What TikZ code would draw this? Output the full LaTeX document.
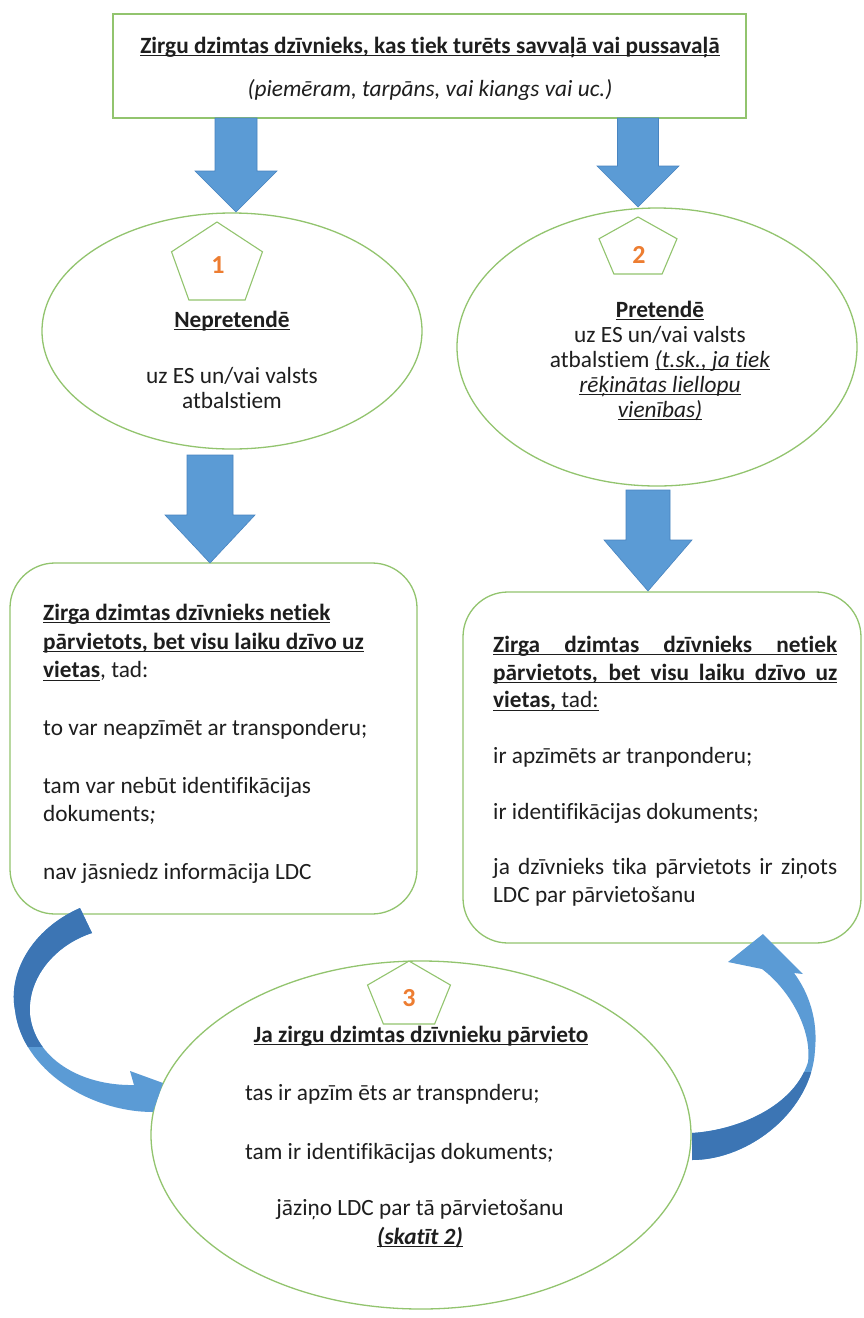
\documentclass[tikz,border=0pt]{standalone}
\usepackage{fontspec}
\setmainfont{Carlito}[Ligatures=CommonOff]
\usetikzlibrary{shapes.geometric}
\definecolor{gline}{RGB}{146,196,110}
\definecolor{afill}{RGB}{91,155,213}
\definecolor{aline}{RGB}{72,132,192}
\definecolor{adark}{RGB}{60,117,180}
\definecolor{numor}{RGB}{237,125,49}
\definecolor{txt}{RGB}{30,30,30}
\newcommand\myul[1]{\setbox0=\hbox{#1}\rlap{\rule[-3pt]{\wd0}{1.2pt}}\box0}
\newcommand\fs{\rule{0pt}{20pt}}
\newcommand\blockdn[6]{\filldraw[blockarrow] (#1-#5,#2) -- (#1+#5,#2) -- (#1+#5,#3) -- (#1+#6,#3) -- (#1,#4) -- (#1-#6,#3) -- (#1-#5,#3) -- cycle;}
\newcommand\pent[4]{\draw[pentline] (#1,#2-#4) -- (#1-0.951*#3,#2-0.309*#4) -- (#1-0.588*#3,#2+0.809*#4) -- (#1+0.588*#3,#2+0.809*#4) -- (#1+0.951*#3,#2-0.309*#4) -- cycle;}
\newcommand\leftcurve{(80,908) .. controls (30,930) and (8,975) .. (15,1010) .. controls (22,1070) and (90,1112) .. (153,1112) -- (163,1083) -- (130,1071) -- (134,1085) .. controls (80,1086) and (35,1058) .. (30,1015) .. controls (27,978) and (55,945) .. (92,933) -- cycle}
\newcommand\rightcurve{(692,1133) .. controls (740,1130) and (795,1105) .. (808,1062) .. controls (812,1030) and (790,990) .. (762,969) -- (728,962) -- (763,934) -- (803,974) -- (794,973) .. controls (809,993) and (818,1020) .. (815,1050) .. controls (812,1110) and (750,1160) .. (692,1160) -- cycle}
\begin{document}
\begin{tikzpicture}[x=1pt,y=-1pt,
  every node/.style={text=txt, inner sep=0pt, font=\fontsize{23.3}{28.8}\selectfont},
  gshape/.style={draw=gline, line width=1.3pt},
  pentline/.style={draw=gline, line width=1.1pt},
  blockarrow/.style={fill=afill, draw=aline, line width=0.6pt},
  numtxt/.style={text=numor, font=\fontsize{26}{28}\selectfont\bfseries},
  ellfont/.style={font=\fontsize{23.3}{25}\selectfont}]
\useasboundingbox (0,0) rectangle (863,1318);
\fill[white] (0,0) rectangle (863,1318);
% shapes
\node[gshape, line width=1.8pt, rectangle, minimum width=633pt, minimum height=104pt] (top) at (429.5,66) {};
\node[gshape, ellipse, minimum width=380pt, minimum height=236pt] (e1) at (232,331) {};
\node[gshape, ellipse, minimum width=400pt, minimum height=278pt] (e2) at (657,347) {};
\node[gshape, rectangle, rounded corners=45pt, minimum width=407pt, minimum height=351pt] (lb) at (213.5,738.5) {};
\node[gshape, rectangle, rounded corners=45pt, minimum width=398pt, minimum height=351pt] (rb) at (662,767.5) {};
\node[gshape, ellipse, minimum width=540pt, minimum height=348pt] (e3) at (421,1135) {};
% pentagons
\pent{217}{265.1}{47.8}{43.1}
\pent{638}{248.5}{41}{31.5}
\pent{409}{995.8}{43.6}{34.8}
\node[numtxt] (n1) at (218,265) {1};
\node[numtxt] (n2) at (639,255) {2};
\node[numtxt] (n3) at (409,998) {3};
% top texts
\node[anchor=base] (t1) at (430,53) {\myul{\textbf{Zirgu dzimtas dzīvnieks, kas tiek turēts savvaļā vai pussavaļā}}};
\node[anchor=base] (t2) at (430,96) {\textit{(piemēram, tarpāns, vai kiangs vai uc.)}};
% ellipse texts
\node[ellfont, anchor=north, align=center] (e1t) at (232,307) {\fs\myul{\textbf{Nepretendē}}\\[31pt] uz ES un/vai valsts\\ atbalstiem};
\node[ellfont, anchor=north, align=center] (e2t) at (660,297) {\fs\myul{\textbf{Pretendē}}\\ uz ES un/vai valsts\\ atbalstiem \myul{\textit{(t.sk., ja tiek}}\\ \myul{\textit{rēķinātas liellopu}}\\ \myul{\textit{vienības)}}};
% box texts
\node[anchor=north west, align=left] (lbt) at (43,600) {\fs\myul{\textbf{Zirga dzimtas dzīvnieks netiek}}\\
\myul{\textbf{pārvietots, bet visu laiku dzīvo uz}}\\
\myul{\textbf{vietas}}, tad:\\[28.8pt]
to var neapzīmēt ar transponderu;\\[28.8pt]
tam var nebūt identifikācijas\\
dokuments\textit{;}\\[28.8pt]
nav jāsniedz informācija LDC};
\node[anchor=north west, align=left, font=\fontsize{23.3}{27.8}\selectfont] (rbt) at (493,632) {\fs\myul{\textbf{\makebox[344pt][s]{Zirga dzimtas dzīvnieks netiek}}}\\
\myul{\textbf{\makebox[344pt][s]{pārvietots, bet visu laiku dzīvo uz}}}\\
\myul{\textbf{vietas,} tad:}\\[27.8pt]
ir apzīmēts ar tranponderu;\\[27.8pt]
ir identifikācijas dokuments;\\[27.8pt]
\makebox[344pt][s]{ja dzīvnieks tika pārvietots ir ziņots}\\
LDC par pārvietošanu};
% bottom ellipse texts
\node[anchor=base] (b1) at (421,1042) {\myul{\textbf{Ja zirgu dzimtas dzīvnieku pārvieto}}};
\node[anchor=north west, align=left] (b2) at (245,1080) {\fs tas ir apzīm ēts ar transpnderu;\\[30pt] tam ir identifikācijas dokuments\textit{;}};
\node[anchor=north, align=center] (b3) at (420,1195) {\fs jāziņo LDC par tā pārvietošanu\\ \myul{\textbf{\textit{(skatīt 2)}}}};
% block arrows
\blockdn{236}{118}{171}{212}{21}{41}
\blockdn{638}{118}{166}{207}{20.5}{41}
\blockdn{210}{455}{515}{563}{23}{45}
\blockdn{648}{490}{540}{591}{22}{44}
% curved arrows
\fill[afill] \leftcurve;
\begin{scope}\clip (0,890) rectangle (200,1046); \fill[adark] \leftcurve; \end{scope}
\fill[afill] \rightcurve;
\begin{scope}\clip (650,1072) rectangle (863,1175); \fill[adark] \rightcurve; \end{scope}
\end{tikzpicture}
\end{document}
